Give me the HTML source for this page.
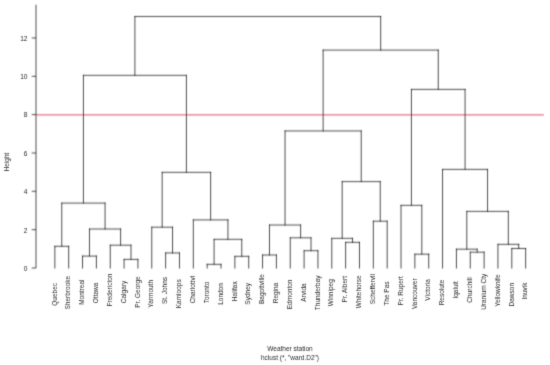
<!DOCTYPE html><html><head><meta charset="utf-8"><style>html,body{margin:0;padding:0;background:#fff;}svg{display:block;}#w{width:550px;height:365px;will-change:transform;}text{font-family:"Liberation Sans",sans-serif;}</style></head><body>
<div id="w"><svg width="550" height="365" viewBox="0 0 550 365">
<defs><filter id="bl" x="0" y="0" width="100%" height="100%" filterUnits="userSpaceOnUse"><feConvolveMatrix order="3" kernelMatrix="0.0300 0.1400 0.0300 0.0900 0.4200 0.0900 0.0300 0.1400 0.0300" edgeMode="none"/></filter><filter id="bt" x="0" y="0" width="100%" height="100%" filterUnits="userSpaceOnUse"><feConvolveMatrix order="3" kernelMatrix="0.0144 0.0912 0.0144 0.0912 0.5776 0.0912 0.0144 0.0912 0.0144" edgeMode="none"/></filter></defs><rect width="550" height="365" fill="#fff"/><g filter="url(#bl)">
<path d="M35.97 114.9H543.9" stroke="rgb(208,0,28)" stroke-width="0.7" fill="none"/>
<path d="M54.85 268.00L54.85 246.30M54.85 246.30L68.70 246.30M68.70 246.30L68.70 268.00M82.54 268.00L82.54 256.10M82.54 256.10L96.39 256.10M96.39 256.10L96.39 268.00M124.09 268.00L124.09 259.40M124.09 259.40L137.93 259.40M137.93 259.40L137.93 268.00M110.24 268.00L110.24 245.20M110.24 245.20L131.01 245.20M131.01 245.20L131.01 259.40M89.47 256.10L89.47 229.00M89.47 229.00L120.62 229.00M120.62 229.00L120.62 245.20M61.77 246.30L61.77 203.10M61.77 203.10L105.05 203.10M105.05 203.10L105.05 229.00M165.63 268.00L165.63 252.95M165.63 252.95L179.47 252.95M179.47 252.95L179.47 268.00M151.78 268.00L151.78 227.20M151.78 227.20L172.55 227.20M172.55 227.20L172.55 252.95M207.17 268.00L207.17 264.35M207.17 264.35L221.01 264.35M221.01 264.35L221.01 268.00M234.86 268.00L234.86 256.35M234.86 256.35L248.71 256.35M248.71 256.35L248.71 268.00M214.09 264.35L214.09 239.35M214.09 239.35L241.78 239.35M241.78 239.35L241.78 256.35M193.32 268.00L193.32 219.90M193.32 219.90L227.94 219.90M227.94 219.90L227.94 239.35M162.16 227.20L162.16 172.35M162.16 172.35L210.63 172.35M210.63 172.35L210.63 219.90M83.41 203.10L83.41 75.35M83.41 75.35L186.40 75.35M186.40 75.35L186.40 172.35M262.56 268.00L262.56 255.00M262.56 255.00L276.40 255.00M276.40 255.00L276.40 268.00M304.10 268.00L304.10 250.70M304.10 250.70L317.94 250.70M317.94 250.70L317.94 268.00M290.25 268.00L290.25 237.80M290.25 237.80L311.02 237.80M311.02 237.80L311.02 250.70M269.48 255.00L269.48 225.00M269.48 225.00L300.63 225.00M300.63 225.00L300.63 237.80M345.64 268.00L345.64 242.35M345.64 242.35L359.48 242.35M359.48 242.35L359.48 268.00M331.79 268.00L331.79 238.35M331.79 238.35L352.56 238.35M352.56 238.35L352.56 242.35M373.33 268.00L373.33 221.20M373.33 221.20L387.18 221.20M387.18 221.20L387.18 268.00M342.18 238.35L342.18 181.60M342.18 181.60L380.25 181.60M380.25 181.60L380.25 221.20M285.06 225.00L285.06 130.95M285.06 130.95L361.21 130.95M361.21 130.95L361.21 181.60M414.87 268.00L414.87 254.20M414.87 254.20L428.72 254.20M428.72 254.20L428.72 268.00M401.03 268.00L401.03 205.35M401.03 205.35L421.80 205.35M421.80 205.35L421.80 254.20M470.26 268.00L470.26 252.20M470.26 252.20L484.11 252.20M484.11 252.20L484.11 268.00M456.41 268.00L456.41 249.20M456.41 249.20L477.18 249.20M477.18 249.20L477.18 252.20M511.80 268.00L511.80 248.50M511.80 248.50L525.65 248.50M525.65 248.50L525.65 268.00M497.95 268.00L497.95 244.35M497.95 244.35L518.72 244.35M518.72 244.35L518.72 248.50M466.80 249.20L466.80 211.40M466.80 211.40L508.34 211.40M508.34 211.40L508.34 244.35M442.57 268.00L442.57 169.40M442.57 169.40L487.57 169.40M487.57 169.40L487.57 211.40M411.41 205.35L411.41 89.40M411.41 89.40L465.07 89.40M465.07 89.40L465.07 169.40M323.14 130.95L323.14 50.10M323.14 50.10L438.24 50.10M438.24 50.10L438.24 89.40M134.90 75.35L134.90 16.50M134.90 16.50L380.69 16.50M380.69 16.50L380.69 50.10" stroke="#000" stroke-width="0.7" fill="none" stroke-linecap="square"/>
<path d="M36.0 4.7V268.0M31.70 268.00H36.0M31.70 229.66H36.0M31.70 191.32H36.0M31.70 152.98H36.0M31.70 114.64H36.0M31.70 76.30H36.0M31.70 37.96H36.0" stroke="#000" stroke-width="0.7" fill="none"/>
</g><g filter="url(#bt)">
<text x="27.4" y="270.85" font-size="6.5" text-anchor="end" fill="#2a2a2a">0</text>
<text x="27.4" y="232.51" font-size="6.5" text-anchor="end" fill="#2a2a2a">2</text>
<text x="27.4" y="194.17" font-size="6.5" text-anchor="end" fill="#2a2a2a">4</text>
<text x="27.4" y="155.83" font-size="6.5" text-anchor="end" fill="#2a2a2a">6</text>
<text x="27.4" y="117.49" font-size="6.5" text-anchor="end" fill="#2a2a2a">8</text>
<text x="27.4" y="79.15" font-size="6.5" text-anchor="end" fill="#2a2a2a">10</text>
<text x="27.4" y="40.81" font-size="6.5" text-anchor="end" fill="#2a2a2a">12</text>
<text transform="translate(56.55,294.30) rotate(-90)" font-size="6.5" text-anchor="middle" fill="#2a2a2a">Quebec</text>
<text transform="translate(70.40,292.70) rotate(-90)" font-size="6.5" text-anchor="middle" fill="#2a2a2a">Sherbrooke</text>
<text transform="translate(84.24,292.20) rotate(-90)" font-size="6.5" text-anchor="middle" fill="#2a2a2a">Montreal</text>
<text transform="translate(98.09,292.90) rotate(-90)" font-size="6.5" text-anchor="middle" fill="#2a2a2a">Ottawa</text>
<text transform="translate(111.94,290.00) rotate(-90)" font-size="6.5" text-anchor="middle" fill="#2a2a2a">Fredericton</text>
<text transform="translate(125.79,292.00) rotate(-90)" font-size="6.5" text-anchor="middle" fill="#2a2a2a">Calgary</text>
<text transform="translate(139.63,292.00) rotate(-90)" font-size="6.5" text-anchor="middle" fill="#2a2a2a">Pr. George</text>
<text transform="translate(153.48,293.80) rotate(-90)" font-size="6.5" text-anchor="middle" fill="#2a2a2a">Yarmouth</text>
<text transform="translate(167.33,290.50) rotate(-90)" font-size="6.5" text-anchor="middle" fill="#2a2a2a">St. Johns</text>
<text transform="translate(181.17,293.80) rotate(-90)" font-size="6.5" text-anchor="middle" fill="#2a2a2a">Kamloops</text>
<text transform="translate(195.02,289.60) rotate(-90)" font-size="6.5" text-anchor="middle" fill="#2a2a2a">Charlottvl</text>
<text transform="translate(208.87,292.50) rotate(-90)" font-size="6.5" text-anchor="middle" fill="#2a2a2a">Toronto</text>
<text transform="translate(222.71,294.00) rotate(-90)" font-size="6.5" text-anchor="middle" fill="#2a2a2a">London</text>
<text transform="translate(236.56,291.20) rotate(-90)" font-size="6.5" text-anchor="middle" fill="#2a2a2a">Halifax</text>
<text transform="translate(250.41,293.80) rotate(-90)" font-size="6.5" text-anchor="middle" fill="#2a2a2a">Sydney</text>
<text transform="translate(264.25,289.00) rotate(-90)" font-size="6.5" text-anchor="middle" fill="#2a2a2a">Bagottville</text>
<text transform="translate(278.10,293.00) rotate(-90)" font-size="6.5" text-anchor="middle" fill="#2a2a2a">Regina</text>
<text transform="translate(291.95,294.40) rotate(-90)" font-size="6.5" text-anchor="middle" fill="#2a2a2a">Edmonton</text>
<text transform="translate(305.80,292.50) rotate(-90)" font-size="6.5" text-anchor="middle" fill="#2a2a2a">Arvida</text>
<text transform="translate(319.64,292.80) rotate(-90)" font-size="6.5" text-anchor="middle" fill="#2a2a2a">Thunderbay</text>
<text transform="translate(333.49,292.80) rotate(-90)" font-size="6.5" text-anchor="middle" fill="#2a2a2a">Winnipeg</text>
<text transform="translate(347.34,289.20) rotate(-90)" font-size="6.5" text-anchor="middle" fill="#2a2a2a">Pr. Albert</text>
<text transform="translate(361.18,291.80) rotate(-90)" font-size="6.5" text-anchor="middle" fill="#2a2a2a">Whitehorse</text>
<text transform="translate(375.03,289.20) rotate(-90)" font-size="6.5" text-anchor="middle" fill="#2a2a2a">Scheffervll</text>
<text transform="translate(388.88,293.60) rotate(-90)" font-size="6.5" text-anchor="middle" fill="#2a2a2a">The Pas</text>
<text transform="translate(402.73,290.80) rotate(-90)" font-size="6.5" text-anchor="middle" fill="#2a2a2a">Pr. Rupert</text>
<text transform="translate(416.57,293.70) rotate(-90)" font-size="6.5" text-anchor="middle" fill="#2a2a2a">Vancouver</text>
<text transform="translate(430.42,289.90) rotate(-90)" font-size="6.5" text-anchor="middle" fill="#2a2a2a">Victoria</text>
<text transform="translate(444.27,292.50) rotate(-90)" font-size="6.5" text-anchor="middle" fill="#2a2a2a">Resolute</text>
<text transform="translate(458.11,289.90) rotate(-90)" font-size="6.5" text-anchor="middle" fill="#2a2a2a">Iqaluit</text>
<text transform="translate(471.96,290.00) rotate(-90)" font-size="6.5" text-anchor="middle" fill="#2a2a2a">Churchill</text>
<text transform="translate(485.81,291.80) rotate(-90)" font-size="6.5" text-anchor="middle" fill="#2a2a2a">Uranium Cty</text>
<text transform="translate(499.65,290.60) rotate(-90)" font-size="6.5" text-anchor="middle" fill="#2a2a2a">Yellowknife</text>
<text transform="translate(513.50,294.70) rotate(-90)" font-size="6.5" text-anchor="middle" fill="#2a2a2a">Dawson</text>
<text transform="translate(527.35,291.00) rotate(-90)" font-size="6.5" text-anchor="middle" fill="#2a2a2a">Inuvik</text>
<text transform="translate(9.2,162) rotate(-90)" font-size="6.5" text-anchor="middle" fill="#2a2a2a">Height</text>
<text x="290" y="351.2" font-size="6.5" text-anchor="middle" fill="#2a2a2a">Weather station</text>
<text x="290" y="359.8" font-size="6.5" text-anchor="middle" fill="#2a2a2a">hclust (*, "ward.D2")</text>
</g></svg></div></body></html>
